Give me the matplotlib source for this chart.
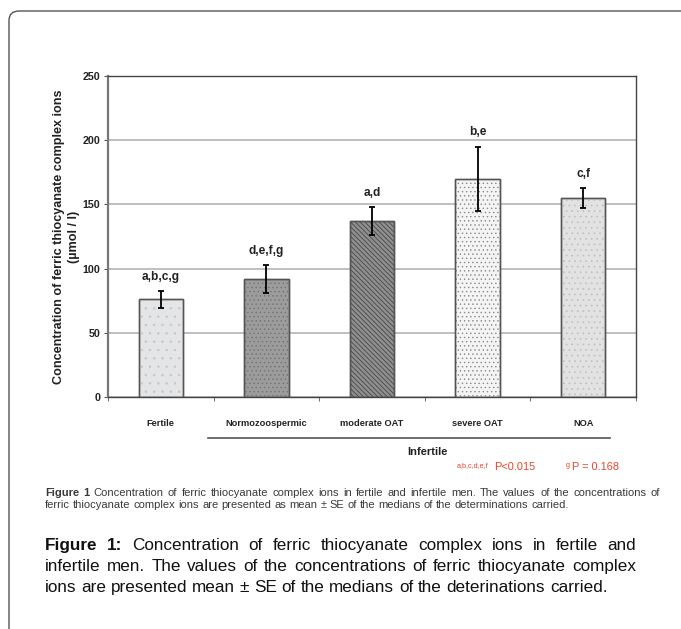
import matplotlib
matplotlib.use("Agg")
import matplotlib.pyplot as plt
from matplotlib.patches import FancyBboxPatch

plt.rcParams['font.family'] = ['Liberation Sans', 'DejaVu Sans']
plt.rcParams['hatch.linewidth'] = 0.5

# group means and standard errors (umol / l)
groups = ["Fertile", "Normozoospermic", "moderate OAT", "severe OAT", "NOA"]
means = [76, 92, 137, 170, 155]
errors = [6.5, 11, 11, 25, 8]
letters = ["a,b,c,g", "d,e,f,g", "a,d", "b,e", "c,f"]
yticks = [0, 50, 100, 150, 200, 250]

faces = ["#e3e5e7", "#9c9c9c", "#8e8e8e", "#f4f4f4", "#e2e2e2"]
hatch_cols = ["#c4c7ca", "#737373", "#3c3c3c", "#8a8a8a", "#c0c0c0"]
hatches = ["..", "....", "\\\\\\\\\\\\\\", "....", "..."]

W, H = 681, 629
fig = plt.figure(figsize=(W / 100, H / 100), dpi=100)
renderer = fig.canvas.get_renderer()


def put_line(parts, x0, y, size, color, x1=None):
    """Place words on one caption line (y = baseline px), spread to x1 when given."""
    texts = [fig.text(0, 1 - y / H, word, ha="left", va="baseline",
                      fontsize=size, fontweight=weight, color=color)
             for word, weight in parts]
    widths = [t.get_window_extent(renderer).width for t in texts]
    space = size * 100 / 72 * 0.278
    if x1 is not None and len(texts) > 1:
        space = (x1 - x0 - sum(widths)) / (len(texts) - 1)
    x = x0
    for t, w in zip(texts, widths):
        t.set_x(x / W)
        x += w + space


def words(s, weight="normal"):
    return [(w, weight) for w in s.split()]


# rounded page frame
frame = FancyBboxPatch((9 / W, -0.2), 1.3, 1.2 - 11 / H,
                       boxstyle="round,pad=0,rounding_size=0.015",
                       transform=fig.transFigure, fill=False,
                       edgecolor="#555555", linewidth=1.0)
fig.patches.append(frame)

ax = fig.add_axes([108 / W, 1 - 397 / H, 528 / W, 321 / H])
x = list(range(len(groups)))

for i in x:
    ax.bar(i, means[i], width=0.42, color=faces[i], edgecolor="#555555",
           linewidth=1.0, zorder=2)
    ax.bar(i, means[i], width=0.42, color="none", edgecolor=hatch_cols[i],
           hatch=hatches[i], linewidth=0, zorder=3)
    ax.bar(i, means[i], width=0.42, color="none", edgecolor="#555555",
           linewidth=1.0, zorder=4)

ax.errorbar(x, means, yerr=errors, fmt="none", ecolor="black",
            elinewidth=1.3, capsize=2.2, capthick=1.3, zorder=5)

for i in x:
    ax.text(i, means[i] + errors[i] + 11, letters[i], ha="center",
            va="center", fontsize=8.6, fontweight="bold", color="#222222")

ax.set_xlim(-0.5, len(groups) - 0.5)
ax.set_ylim(0, 250)
ax.set_yticks(yticks)
ax.set_yticklabels([str(v) for v in yticks], fontsize=7.7,
                   fontweight="bold", color="#222222")
ax.yaxis.grid(True, color="#b4b4b4", linewidth=1.2, zorder=0)
ax.set_axisbelow(True)

ax.set_xticks(x)
ax.set_xticklabels(groups, fontsize=6.7, fontweight="bold", color="#222222")
ax.tick_params(axis="x", length=0, pad=16)
ax.set_xticks([i + 0.5 for i in range(-1, len(groups))], minor=True)
ax.tick_params(axis="x", which="minor", length=3, color="#555555")
ax.tick_params(axis="y", length=3, color="#555555", pad=2.5)

for side in ["top", "right", "bottom"]:
    ax.spines[side].set_color("#444444")
    ax.spines[side].set_linewidth(1.0)
ax.spines["left"].set_color("#777777")
ax.spines["left"].set_linewidth(1.6)

ax.set_ylabel("Concentration of ferric thiocyanate complex ions\n(\u00b5mol / l)",
              fontsize=9.1, fontweight="bold", color="#222222",
              linespacing=1.35, labelpad=2)

# infertile bracket line
fig.add_artist(plt.Line2D([208 / W, 610 / W], [1 - 438 / H] * 2,
                          color="#555555", linewidth=1.2))
fig.text(427 / W, 1 - 452 / H, "Infertile", ha="center", va="center",
         fontsize=8, fontweight="bold", color="#222222")

# significance notes
red = "#e8452c"
fig.text(457 / W, 1 - 467 / H, "a,b,c,d,e,f", ha="left", va="baseline",
         fontsize=5.2, color=red)
fig.text(494 / W, 1 - 470 / H, "P<0.015", ha="left", va="baseline",
         fontsize=7.9, color=red)
fig.text(566 / W, 1 - 467 / H, "g", ha="left", va="baseline",
         fontsize=5.2, color=red)
fig.text(572 / W, 1 - 470 / H, "P = 0.168", ha="left", va="baseline",
         fontsize=7.9, color=red)

# small figure legend
small_col = "#3a3a3a"
put_line(words("Figure 1", "bold") + words(
    "Concentration of ferric thiocyanate complex ions in fertile and "
    "infertile men. The values of the concentrations of"),
    45, 496, 8.0, small_col, x1=660)
put_line(words("ferric thiocyanate complex ions are presented as mean \u00b1 SE "
               "of the medians of the determinations carried."),
         45, 508, 8.0, small_col)

# main caption
cap_col = "#111111"
put_line(words("Figure 1:", "bold") + words(
    "Concentration of ferric thiocyanate complex ions in fertile and"),
    45, 550, 12.3, cap_col, x1=636)
put_line(words("infertile men. The values of the concentrations of ferric "
               "thiocyanate complex"), 45, 571, 12.3, cap_col, x1=636)
put_line(words("ions are presented mean \u00b1 SE of the medians of the "
               "deterinations carried."), 45, 592, 12.3, cap_col)

fig.savefig("out.png", dpi=100)
